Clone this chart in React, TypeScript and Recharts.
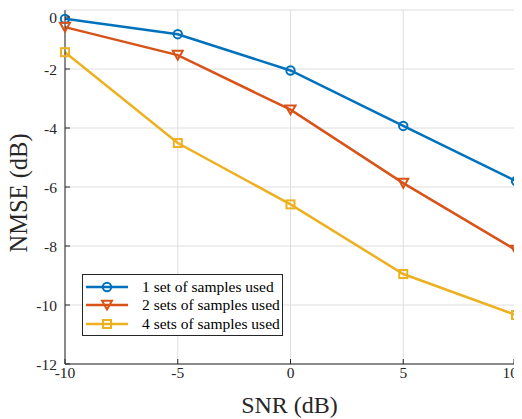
import { CartesianGrid, Legend, Line, LineChart, XAxis, YAxis } from "recharts"

const snr = [-10, -5, 0, 5, 10]
const oneSet = [-0.3, -0.82, -2.05, -3.93, -5.8]
const twoSets = [-0.58, -1.53, -3.38, -5.87, -8.14]
const fourSets = [-1.43, -4.51, -6.59, -8.95, -10.34]

const xTicks = [-10, -5, 0, 5, 10]
const yTicks = [-12, -10, -8, -6, -4, -2, 0]
const seriesNames = ["1 set of samples used", "2 sets of samples used", "4 sets of samples used"]

const data = snr.map((s, i) => ({ snr: s, one: oneSet[i], two: twoSets[i], four: fourSets[i] }))

const font = "'Liberation Serif', 'Times New Roman', serif"
const axisColor = "#262626"
const colors = ["#0072BD", "#D95319", "#EDB120"]
const markers = ["circle", "triangle", "square"]
const keys = ["one", "two", "four"]

function marker(kind: string, cx: number, cy: number, color: string, key?: string) {
  if (kind === "circle") {
    return <circle key={key} cx={cx} cy={cy} r={4.2} fill="none" stroke={color} strokeWidth={2} />
  }
  if (kind === "triangle") {
    const pts = `${cx - 5},${cy - 4.3} ${cx + 5},${cy - 4.3} ${cx},${cy + 4.5}`
    return <polygon key={key} points={pts} fill="none" stroke={color} strokeWidth={2} strokeLinejoin="miter" />
  }
  return <rect key={key} x={cx - 4} y={cy - 4} width={8} height={8} fill="none" stroke={color} strokeWidth={2} />
}

// inward tick marks on every side, MATLAB box style
const BottomTick = ({ x, y, payload }: any) => {
  // last label is pulled inside the figure edge
  const last = payload.value === xTicks[xTicks.length - 1]
  return (
    <g>
      <line x1={x} x2={x} y1={y} y2={y - 5} stroke={axisColor} />
      <text
        x={last ? x + 4 : x}
        y={y + 14}
        textAnchor={last ? "end" : "middle"}
        fontSize={15.5}
        style={{ fontFamily: font }}
        fill={axisColor}
      >
        {payload.value}
      </text>
    </g>
  )
}

const LeftTick = ({ x, y, payload }: any) => (
  <g>
    <line x1={x} x2={x + 5} y1={y} y2={y} stroke={axisColor} />
    <text x={x - 8} y={y + 6} textAnchor="end" fontSize={15.5} style={{ fontFamily: font }} fill={axisColor}>
      {payload.value}
    </text>
  </g>
)

const TopTick = ({ x, y }: any) => <line x1={x} x2={x} y1={y} y2={y + 5} stroke={axisColor} />
const RightTick = ({ x, y }: any) => <line x1={x} x2={x - 5} y1={y} y2={y} stroke={axisColor} />

const renderLegend = () => (
  <svg width={201} height={62} style={{ display: "block" }}>
    <rect x={0.5} y={0.5} width={200} height={61} fill="#fff" stroke={axisColor} />
    {seriesNames.map((name, i) => {
      const cy = [13, 31, 50][i]
      return (
        <g key={name}>
          <line x1={4} x2={46} y1={cy} y2={cy} stroke={colors[i]} strokeWidth={2.5} />
          {marker(markers[i], 25, cy, colors[i])}
          <text x={60} y={cy + 5} fontSize={15.5} style={{ fontFamily: font }} fill="#000">
            {name}
          </text>
        </g>
      )
    })}
  </svg>
)

export default function App() {
  return (
    <div style={{ fontFamily: font }}>
      <style>{`.recharts-surface { overflow: visible; }`}</style>
      <LineChart width={514} height={411} data={data} margin={{ top: 2, right: 6, bottom: 0, left: 0 }}>
        <CartesianGrid stroke="#dedede" />
        <XAxis
          dataKey="snr"
          type="number"
          domain={[-10, 10]}
          ticks={xTicks}
          height={55}
          tickSize={0}
          tickMargin={0}
          tickLine={false}
          axisLine={{ stroke: axisColor }}
          tick={<BottomTick />}
          label={() => (
            <text x={281.5} y={405} textAnchor="middle" fontSize={24} style={{ fontFamily: font }} fill={axisColor}>
              SNR (dB)
            </text>
          )}
        />
        <XAxis
          xAxisId="top"
          orientation="top"
          dataKey="snr"
          type="number"
          domain={[-10, 10]}
          ticks={xTicks}
          height={0}
          tickSize={0}
          tickMargin={0}
          tickLine={false}
          axisLine={{ stroke: axisColor }}
          tick={<TopTick />}
        />
        <YAxis
          type="number"
          domain={[-12, 0]}
          ticks={yTicks}
          width={57}
          tickSize={0}
          tickMargin={0}
          tickLine={false}
          axisLine={{ stroke: axisColor }}
          tick={<LeftTick />}
          label={() => (
            <text
              x={0}
              y={0}
              transform="translate(19, 185) rotate(-90)"
              textAnchor="middle"
              fontSize={24.5}
              style={{ fontFamily: font }}
              fill={axisColor}
            >
              NMSE (dB)
            </text>
          )}
        />
        <YAxis
          yAxisId="right"
          orientation="right"
          type="number"
          domain={[-12, 0]}
          ticks={yTicks}
          width={0}
          tickSize={0}
          tickMargin={0}
          tickLine={false}
          axisLine={{ stroke: axisColor }}
          tick={<RightTick />}
        />
        {keys.map((k, i) => (
          <Line
            key={k}
            dataKey={k}
            name={seriesNames[i]}
            type="linear"
            stroke={colors[i]}
            strokeWidth={2.5}
            isAnimationActive={false}
            dot={(p: any) => marker(markers[i], p.cx, p.cy, colors[i], `${k}-${p.index}`)}
            activeDot={false}
          />
        ))}
        <Legend
          layout="vertical"
          align="center"
          verticalAlign="middle"
          wrapperStyle={{ left: 74, top: 266, width: 201, height: 62 }}
          content={renderLegend}
        />
      </LineChart>
    </div>
  )
}
